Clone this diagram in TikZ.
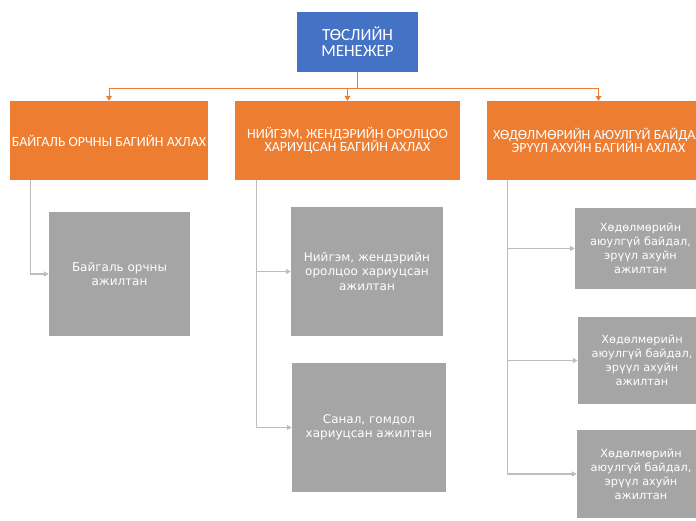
\documentclass[tikz,border=0pt]{standalone}
\usepackage{fontspec}
\usepackage{tikz}
\usetikzlibrary{arrows.meta}
\usetikzlibrary{positioning}
\newfontfamily\headfont{Carlito}
\newfontfamily\stafffont{DejaVu Sans}
\definecolor{pmblue}{HTML}{4472C4}
\definecolor{leadorange}{HTML}{ED7D31}
\definecolor{staffgray}{HTML}{A5A5A5}
\definecolor{linegray}{HTML}{BDBDBD}
\tikzset{
	headlink/.style={draw=leadorange, line width=1pt, -{Triangle[length=5pt,width=6pt]}},
	stafflink/.style={draw=linegray, line width=1.2pt, -{Triangle[length=5pt,width=5pt]}}
}

\begin{document}
\begin{tikzpicture}[x=1pt,y=-1pt]
	\useasboundingbox (0,0) rectangle (696,520);
	\clip (0,0) rectangle (696,520);

	\node[fill=pmblue, text=white, minimum width=121pt, minimum height=60pt, inner sep=0pt,
	      align=center, font=\headfont\fontsize{17}{16}\selectfont] (pm) at (357.5,42) {ТӨСЛИЙН\\МЕНЕЖЕР};

	\begin{scope}[every node/.style={fill=leadorange, text=white, minimum height=79pt, inner sep=0pt,
	              align=center, font=\headfont\fontsize{14}{13.5}\selectfont}]
		\node[minimum width=198pt] (lead1) at (109,140.5) {БАЙГАЛЬ ОРЧНЫ БАГИЙН АХЛАХ};
		\node[minimum width=225pt] (lead2) at (347.5,140.5) {НИЙГЭМ, ЖЕНДЭРИЙН ОРОЛЦОО\\ХАРИУЦСАН БАГИЙН АХЛАХ};
		\node[minimum width=223pt] (lead3) at (598.5,140.5) {ХӨДӨЛМӨРИЙН АЮУЛГҮЙ БАЙДАЛ\\ЭРҮҮЛ АХУЙН БАГИЙН АХЛАХ};
	\end{scope}

	\begin{scope}[every node/.style={fill=staffgray, text=white, inner sep=0pt,
	              align=center, font=\stafffont\fontsize{12}{14.5}\selectfont}]
		\node[minimum width=141pt, minimum height=124pt] (staff1) at (119.5,274) {Байгаль орчны\\ажилтан};
		\node[minimum width=152pt, minimum height=129pt] (staff2) at (367,271.5) {Нийгэм, жендэрийн\\оролцоо хариуцсан\\ажилтан};
		\node[minimum width=154pt, minimum height=129pt] (staff3) at (369,427.5) {Санал, гомдол\\хариуцсан ажилтан};
	\end{scope}

	\begin{scope}[every node/.style={fill=staffgray, text=white, inner sep=0pt,
	              align=center, font=\stafffont\fontsize{11.3}{14}\selectfont}]
		\node[minimum width=131pt, minimum height=81pt] (staff4) at (640.5,248.5) {Хөдөлмөрийн\\аюулгүй байдал,\\эрүүл ахуйн\\ажилтан};
		\node[minimum width=128pt, minimum height=87pt] (staff5) at (642,360.5) {Хөдөлмөрийн\\аюулгүй байдал,\\эрүүл ахуйн\\ажилтан};
		\node[minimum width=128pt, minimum height=88pt] (staff6) at (641,474) {Хөдөлмөрийн\\аюулгүй байдал,\\эрүүл ахуйн\\ажилтан};
	\end{scope}

	\draw[headlink] (pm.south) -- ++(0,16) -| (lead1.north);
	\draw[headlink] (pm.south) -- ++(0,16) -| (lead2.north);
	\draw[headlink] (pm.south) -- ++(0,16) -| (lead3.north);

	\draw[stafflink] ([xshift=21pt]lead1.south west) |- (staff1.west);
	\draw[stafflink] ([xshift=22pt]lead2.south west) |- (staff2.west);
	\draw[stafflink] ([xshift=22pt]lead2.south west) |- (staff3.west);
	\draw[stafflink] ([xshift=21pt]lead3.south west) |- (staff4.west);
	\draw[stafflink] ([xshift=21pt]lead3.south west) |- (staff5.west);
	\draw[stafflink] ([xshift=21pt]lead3.south west) |- (staff6.west);
\end{tikzpicture}
\end{document}
